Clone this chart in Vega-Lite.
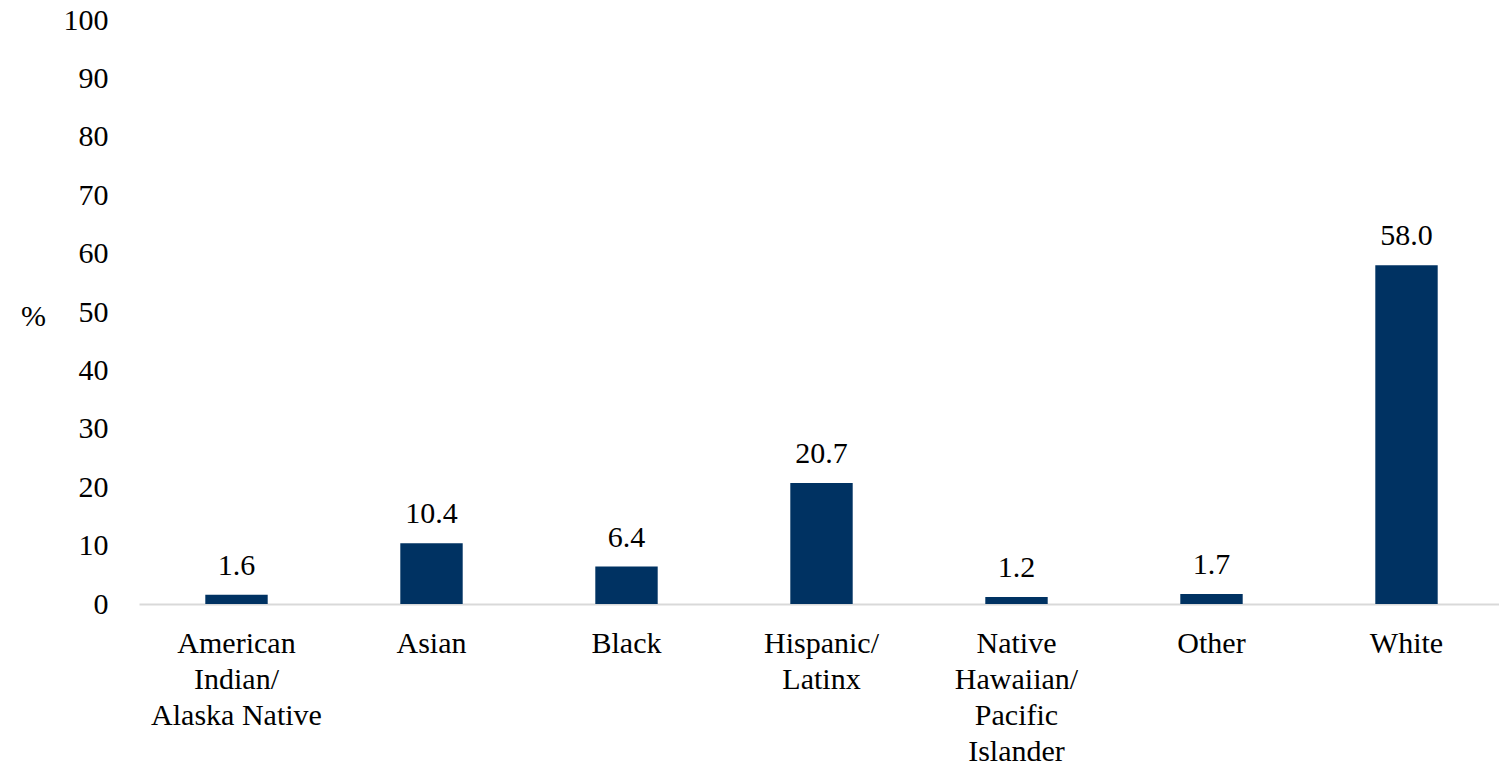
{
  "$schema": "https://vega.github.io/schema/vega-lite/v6.json",
  "autosize": {"type": "none"},
  "width": 1365,
  "height": 584,
  "padding": {"left": 139, "top": 20, "right": 0, "bottom": 167},
  "background": "white",
  "config": {
    "view": {"stroke": null},
    "font": "Liberation Serif"
  },
  "data": {
    "values": [
      {"group": "American Indian/Alaska Native", "pct": 1.6},
      {"group": "Asian", "pct": 10.4},
      {"group": "Black", "pct": 6.4},
      {"group": "Hispanic/Latinx", "pct": 20.7},
      {"group": "Native Hawaiian/Pacific Islander", "pct": 1.2},
      {"group": "Other", "pct": 1.7},
      {"group": "White", "pct": 58.0}
    ]
  },
  "encoding": {
    "x": {
      "field": "group",
      "type": "nominal",
      "sort": null,
      "scale": {"paddingInner": 0.68, "paddingOuter": 0.34},
      "axis": {
        "title": null,
        "labelAngle": 0,
        "labelFont": "Liberation Serif",
        "labelFontSize": 30,
        "labelColor": "#000000",
        "labelLineHeight": 36,
        "labelPadding": 24,
        "labelBaseline": "top",
        "ticks": false,
        "domainColor": "#d9d9d9",
        "domainWidth": 2,
        "labelExpr": "datum.value == 'American Indian/Alaska Native' ? ['American', 'Indian/', 'Alaska Native'] : datum.value == 'Hispanic/Latinx' ? ['Hispanic/', 'Latinx'] : datum.value == 'Native Hawaiian/Pacific Islander' ? ['Native', 'Hawaiian/', 'Pacific', 'Islander'] : datum.value"
      }
    },
    "y": {
      "field": "pct",
      "type": "quantitative",
      "scale": {"domain": [0, 100], "nice": false},
      "axis": {
        "title": "%",
        "titleAngle": 0,
        "titleFont": "Liberation Serif",
        "titleFontSize": 30,
        "titleFontWeight": "normal",
        "titleColor": "#000000",
        "titleX": -106,
        "titleY": 296,
        "titleAlign": "center",
        "titleBaseline": "middle",
        "values": [0, 10, 20, 30, 40, 50, 60, 70, 80, 90, 100],
        "labelFont": "Liberation Serif",
        "labelFontSize": 30,
        "labelColor": "#000000",
        "labelPadding": 31,
        "domain": false,
        "ticks": false,
        "grid": false
      }
    }
  },
  "layer": [
    {
      "mark": {"type": "bar", "color": "#003262"}
    },
    {
      "mark": {
        "type": "text",
        "baseline": "bottom",
        "dy": -14,
        "font": "Liberation Serif",
        "fontSize": 30,
        "color": "#000000"
      },
      "encoding": {
        "text": {"field": "pct", "type": "quantitative", "format": ".1f"}
      }
    }
  ]
}
